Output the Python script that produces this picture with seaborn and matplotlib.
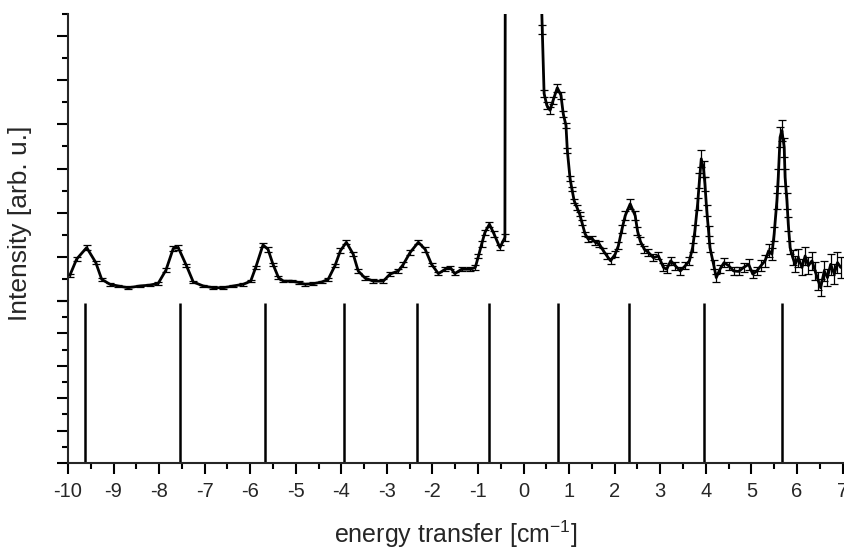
import numpy as np
import pandas as pd
import seaborn as sns
import matplotlib.pyplot as plt
from matplotlib.ticker import MultipleLocator

# measured spectrum, energy-loss side (before the elastic line)
left_x = [-9.96, -9.81, -9.59, -9.39, -9.26, -9.08, -8.90, -8.68, -8.42, -8.20,
          -8.02, -7.85, -7.69, -7.58, -7.40, -7.25, -7.03, -6.81, -6.59, -6.37,
          -6.15, -5.99, -5.88, -5.72, -5.61, -5.50, -5.38, -5.27, -5.09, -4.94,
          -4.80, -4.62, -4.43, -4.29, -4.14, -4.02, -3.89, -3.74, -3.63, -3.48,
          -3.30, -3.08, -2.93, -2.75, -2.64, -2.49, -2.31, -2.16, -2.02, -1.87,
          -1.72, -1.61, -1.51, -1.36, -1.17, -1.06, -0.99, -0.92, -0.85, -0.75,
          -0.65, -0.52, -0.41, -0.40]
left_y = [0.58, 0.95, 1.21, 0.87, 0.49, 0.38, 0.34, 0.30, 0.34, 0.36,
          0.40, 0.70, 1.19, 1.21, 0.80, 0.43, 0.34, 0.30, 0.30, 0.34,
          0.38, 0.45, 0.76, 1.27, 1.17, 0.83, 0.53, 0.45, 0.45, 0.42,
          0.38, 0.39, 0.43, 0.49, 0.80, 1.14, 1.33, 1.06, 0.68, 0.52,
          0.45, 0.45, 0.61, 0.68, 0.83, 1.10, 1.33, 1.17, 0.83, 0.62,
          0.72, 0.76, 0.62, 0.72, 0.72, 0.76, 1.02, 1.29, 1.55, 1.74,
          1.52, 1.21, 1.44, 9.00]
left_err = [0.04, 0.04, 0.05, 0.04, 0.04, 0.03, 0.03, 0.03, 0.03, 0.03,
            0.03, 0.04, 0.05, 0.05, 0.04, 0.03, 0.03, 0.03, 0.03, 0.03,
            0.03, 0.03, 0.04, 0.05, 0.05, 0.04, 0.04, 0.03, 0.03, 0.03,
            0.03, 0.03, 0.03, 0.04, 0.04, 0.05, 0.05, 0.05, 0.04, 0.04,
            0.04, 0.04, 0.04, 0.04, 0.05, 0.05, 0.05, 0.05, 0.04, 0.04,
            0.04, 0.04, 0.04, 0.04, 0.04, 0.05, 0.05, 0.06, 0.06, 0.06,
            0.06, 0.06, 0.07, 0.10]

# energy-gain side (after the elastic line)
right_x = [0.39, 0.41, 0.45, 0.51, 0.58, 0.65, 0.74, 0.82, 0.87, 0.93,
           0.96, 1.02, 1.06, 1.11, 1.17, 1.23, 1.28, 1.35, 1.42, 1.50,
           1.57, 1.66, 1.75, 1.83, 1.91, 2.01, 2.08, 2.16, 2.23, 2.34,
           2.45, 2.50, 2.56, 2.65, 2.74, 2.85, 2.96, 3.07, 3.14, 3.23,
           3.33, 3.44, 3.55, 3.64, 3.71, 3.76, 3.82, 3.86, 3.90, 3.95,
           3.98, 4.02, 4.06, 4.09, 4.17, 4.23, 4.31, 4.40, 4.50, 4.61,
           4.72, 4.83, 4.94, 5.03, 5.12, 5.21, 5.30, 5.38, 5.45, 5.50,
           5.56, 5.59, 5.63, 5.67, 5.72, 5.74, 5.78, 5.81, 5.85, 5.91,
           5.96, 6.03, 6.11, 6.18, 6.25, 6.33, 6.40, 6.47, 6.52, 6.60,
           6.67, 6.74, 6.82, 6.89, 6.96]
right_y = [6.90, 6.15, 4.70, 4.43, 4.32, 4.55, 4.83, 4.66, 4.24, 3.98,
           3.41, 2.77, 2.54, 2.27, 2.12, 1.97, 1.78, 1.52, 1.40, 1.42,
           1.33, 1.29, 1.14, 1.02, 0.91, 1.06, 1.25, 1.63, 1.93, 2.20,
           1.93, 1.59, 1.36, 1.17, 1.10, 0.98, 1.02, 0.76, 0.72, 0.91,
           0.80, 0.68, 0.80, 0.91, 1.21, 1.59, 2.20, 2.73, 3.22, 2.99,
           2.65, 2.05, 1.59, 1.21, 0.83, 0.53, 0.72, 0.87, 0.80, 0.68,
           0.67, 0.76, 0.83, 0.61, 0.68, 0.80, 0.91, 1.14, 1.06, 1.52,
           2.27, 2.80, 3.71, 3.86, 3.48, 2.80, 2.27, 1.74, 1.21, 0.98,
           0.83, 0.98, 0.76, 1.02, 0.80, 0.91, 0.68, 0.45, 0.30, 0.68,
           0.53, 0.83, 0.61, 0.87, 0.76]
right_err = [0.10, 0.10, 0.08, 0.08, 0.08, 0.08, 0.09, 0.08, 0.07, 0.06,
             0.05, 0.05, 0.05, 0.05, 0.05, 0.05, 0.05, 0.05, 0.06, 0.06,
             0.06, 0.06, 0.06, 0.07, 0.07, 0.07, 0.08, 0.09, 0.10, 0.11,
             0.10, 0.09, 0.08, 0.08, 0.08, 0.08, 0.08, 0.09, 0.09, 0.09,
             0.09, 0.08, 0.08, 0.09, 0.10, 0.12, 0.14, 0.16, 0.19, 0.18,
             0.15, 0.13, 0.11, 0.10, 0.10, 0.09, 0.09, 0.10, 0.09, 0.09,
             0.09, 0.10, 0.12, 0.10, 0.10, 0.12, 0.13, 0.15, 0.14, 0.16,
             0.18, 0.20, 0.22, 0.24, 0.22, 0.20, 0.18, 0.16, 0.15, 0.17,
             0.18, 0.20, 0.18, 0.20, 0.19, 0.20, 0.20, 0.20, 0.19, 0.22,
             0.20, 0.23, 0.22, 0.24, 0.24]

# calculated transitions (stick spectrum)
stick_x = [-9.62, -7.55, -5.68, -3.94, -2.33, -0.77, 0.76, 2.32, 3.95, 5.67]
stick_h = [4.93, 4.93, 4.93, 4.93, 4.93, 4.93, 4.93, 4.93, 4.93, 4.93]

sns.set_style("ticks")
plt.rcParams['font.family'] = ['Liberation Sans', 'DejaVu Sans']
plt.rcParams['mathtext.fontset'] = 'custom'
plt.rcParams['mathtext.rm'] = 'Liberation Sans'
plt.rcParams['axes.unicode_minus'] = False

left_df = pd.DataFrame({'x': left_x, 'y': left_y})
right_df = pd.DataFrame({'x': right_x, 'y': right_y})

fig = plt.figure(figsize=(8.44, 5.51), dpi=100)
ax_top = fig.add_axes([68 / 844, 250 / 551, 774.5 / 844, 287 / 551])
ax_bot = fig.add_axes([68 / 844, 88 / 551, 774.5 / 844, 162 / 551], sharex=ax_top)

# top: data with error bars
for df, err in [(left_df, left_err), (right_df, right_err)]:
    ax_top.errorbar(df['x'], df['y'], yerr=err, fmt='none', ecolor='black',
                    elinewidth=0.9, capsize=3, capthick=0.9, zorder=2)
    sns.lineplot(data=df, x='x', y='y', color='black', linewidth=2.0,
                 ax=ax_top, zorder=3)

ax_top.set_ylim(0, 6.5)
ax_top.yaxis.set_major_locator(MultipleLocator(1))
ax_top.yaxis.set_minor_locator(MultipleLocator(0.5))
ax_top.set_yticklabels([])
ax_top.set_xlabel('')
ax_top.set_ylabel('')
ax_top.tick_params(axis='x', which='both', bottom=False, labelbottom=False)
for s in ['top', 'right', 'bottom']:
    ax_top.spines[s].set_visible(False)

# bottom: stick spectrum
ax_bot.vlines(stick_x, 0, stick_h, color='black', linewidth=1.8)
ax_bot.set_ylim(0, 5)
ax_bot.set_xlim(-10, 7)
ax_bot.yaxis.set_major_locator(MultipleLocator(1))
ax_bot.yaxis.set_minor_locator(MultipleLocator(0.5))
ax_bot.xaxis.set_major_locator(MultipleLocator(1))
ax_bot.xaxis.set_minor_locator(MultipleLocator(0.5))
ax_bot.set_yticklabels([])
for s in ['top', 'right']:
    ax_bot.spines[s].set_visible(False)

for ax in [ax_top, ax_bot]:
    for s in ['left', 'bottom']:
        ax.spines[s].set_linewidth(1.5)
    ax.tick_params(which='major', direction='out', length=8, width=1.5,
                   labelsize=14.5, pad=6, color='black')
    ax.tick_params(which='minor', direction='out', length=4.5, width=1.5,
                   color='black')

ax_bot.set_xlabel('energy transfer [cm$^{\\mathregular{-1}}$]', fontsize=18,
                  labelpad=12)
fig.text(0.024, 1 - 223 / 551, 'Intensity [arb. u.]',
         rotation=90, ha='center', va='center', fontsize=19)

plt.savefig("out.png", dpi=100)
